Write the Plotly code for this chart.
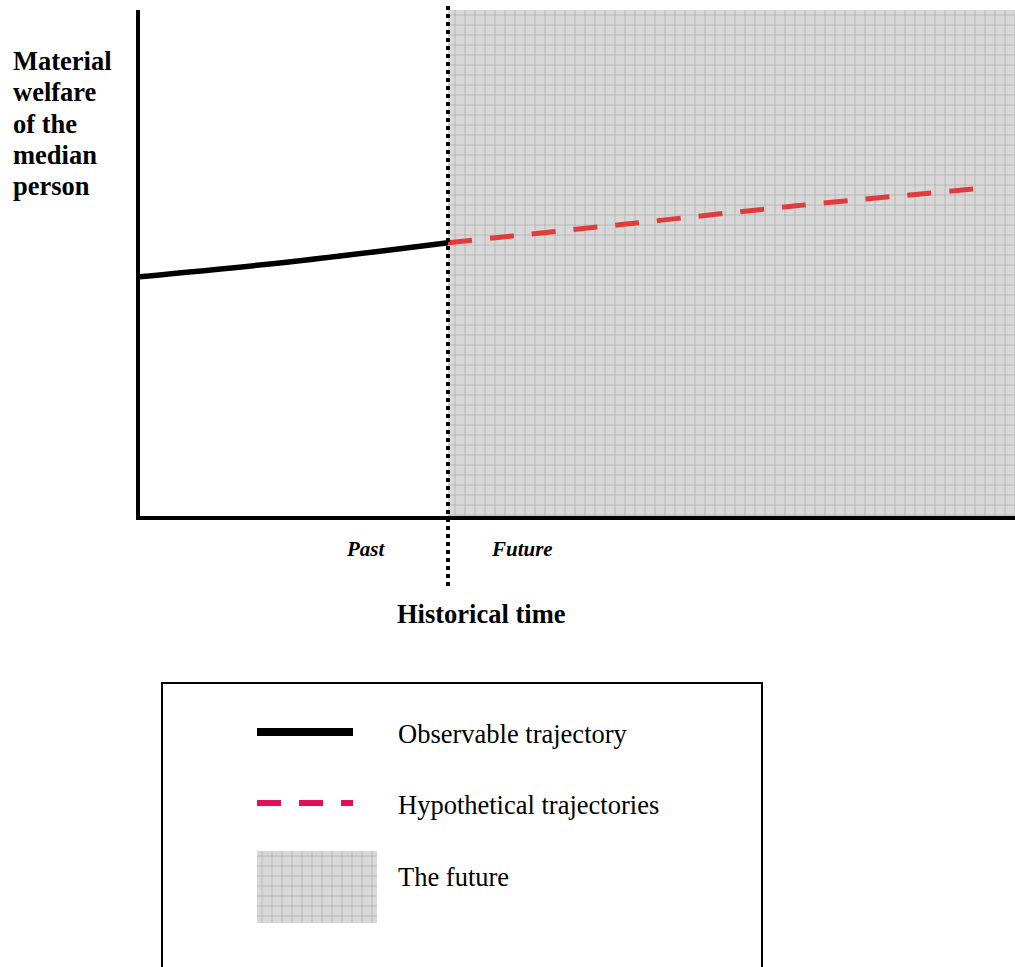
import plotly.graph_objects as go

W, H = 1015, 967

# ---- data ----
boundary_x = 35.2          # present moment on the time axis
past_x = [0, 17.5, 35.2]
past_y = [47.3, 50.3, 54.0]
future_x = [35.2, 55, 75, 95.8]
future_y = [54.0, 57.6, 61.3, 64.7]
x_range = [0, 100]
y_range = [0, 100]

y_title_lines = ["Material", "welfare", "of the", "median", "person"]
legend_labels = ["Observable trajectory", "Hypothetical trajectories", "The future"]

FONT = "Liberation Serif"

def px(xp):
    return xp / W

def py(yp):
    return 1 - yp / H

pattern = dict(shape="+", size=10, solidity=0.12, fgcolor="#a6a6a6", bgcolor="#d8d8d8", fillmode="replace")

fig = go.Figure()

# future shaded region
fig.add_trace(go.Scatter(
    x=[boundary_x, x_range[1], x_range[1], boundary_x, boundary_x],
    y=[y_range[0], y_range[0], y_range[1], y_range[1], y_range[0]],
    mode="lines", line=dict(width=0), fill="toself",
    fillcolor="#d8d8d8", fillpattern=pattern, hoverinfo="skip", showlegend=False,
    xaxis="x", yaxis="y"))

# observable trajectory
fig.add_trace(go.Scatter(x=past_x, y=past_y, mode="lines",
                         line=dict(color="black", width=5.5, shape="spline"),
                         hoverinfo="skip", showlegend=False, xaxis="x", yaxis="y"))

# hypothetical trajectory
fig.add_trace(go.Scatter(x=future_x, y=future_y, mode="lines",
                         line=dict(color="#e03c3c", width=5, dash="24px,18px", shape="spline"),
                         hoverinfo="skip", showlegend=False, xaxis="x", yaxis="y"))

# legend swatch for the future
fig.add_trace(go.Scatter(x=[0, 1, 1, 0, 0], y=[0, 0, 1, 1, 0], mode="lines",
                         line=dict(width=0), fill="toself", fillcolor="#d8d8d8",
                         fillpattern=pattern, hoverinfo="skip", showlegend=False,
                         xaxis="x2", yaxis="y2"))

shapes = [
    # dotted present divider
    dict(type="line", xref="x", yref="paper", x0=boundary_x, x1=boundary_x,
         y0=py(586), y1=py(5), line=dict(color="black", width=4, dash="dot")),
    # legend box
    dict(type="rect", xref="paper", yref="paper", x0=px(162), x1=px(762),
         y0=py(990), y1=py(683), line=dict(color="black", width=2)),
    # legend line samples
    dict(type="line", xref="paper", yref="paper", x0=px(257), x1=px(353),
         y0=py(732), y1=py(732), line=dict(color="black", width=8)),
    dict(type="line", xref="paper", yref="paper", x0=px(257), x1=px(353),
         y0=py(803), y1=py(803), line=dict(color="#e0105a", width=6, dash="24px,18px")),
]

annotations = []
for i, t in enumerate(y_title_lines):
    annotations.append(dict(text=f"<b>{t}</b>", xref="paper", yref="paper",
                            x=px(11), y=py(61 + 31.3 * i), xanchor="left", yanchor="middle",
                            showarrow=False, font=dict(family=FONT, size=26.5, color="black")))
annotations += [
    dict(text="<b><i>Past</i></b>", xref="paper", yref="paper", x=px(366), y=py(549),
         xanchor="center", yanchor="middle",
         showarrow=False, font=dict(family=FONT, size=21, color="black")),
    dict(text="<b><i>Future</i></b>", xref="paper", yref="paper", x=px(522), y=py(549),
         xanchor="center", yanchor="middle",
         showarrow=False, font=dict(family=FONT, size=21, color="black")),
    dict(text="<b>Historical time</b>", xref="paper", yref="paper", x=px(481), y=py(614),
         xanchor="center", yanchor="middle",
         showarrow=False, font=dict(family=FONT, size=26.5, color="black")),
]
for lbl, yp in zip(legend_labels, [734, 805, 877]):
    annotations.append(dict(text=lbl, xref="paper", yref="paper", x=px(396), y=py(yp),
                            xanchor="left", yanchor="middle", showarrow=False,
                            font=dict(family=FONT, size=26.5, color="black")))

fig.update_layout(
    width=W, height=H,
    margin=dict(l=0, r=0, t=0, b=0, pad=0),
    paper_bgcolor="white", plot_bgcolor="white",
    hovermode=False,
    xaxis=dict(domain=[px(140), 1], range=x_range, showgrid=False, zeroline=False,
               showticklabels=False, ticks="", showline=True, linecolor="black", linewidth=4,
               anchor="y", fixedrange=True),
    yaxis=dict(domain=[py(516), py(10)], range=y_range, showgrid=False, zeroline=False,
               showticklabels=False, ticks="", showline=True, linecolor="black", linewidth=4,
               anchor="x", fixedrange=True),
    xaxis2=dict(domain=[px(257), px(377)], range=[0, 1], visible=False, anchor="y2"),
    yaxis2=dict(domain=[py(923), py(851)], range=[0, 1], visible=False, anchor="x2"),
    shapes=shapes, annotations=annotations, showlegend=False,
)

fig.write_html("out.html", config={"displayModeBar": False},
               post_script="document.body.style.margin='0';document.body.style.overflow='hidden';")
